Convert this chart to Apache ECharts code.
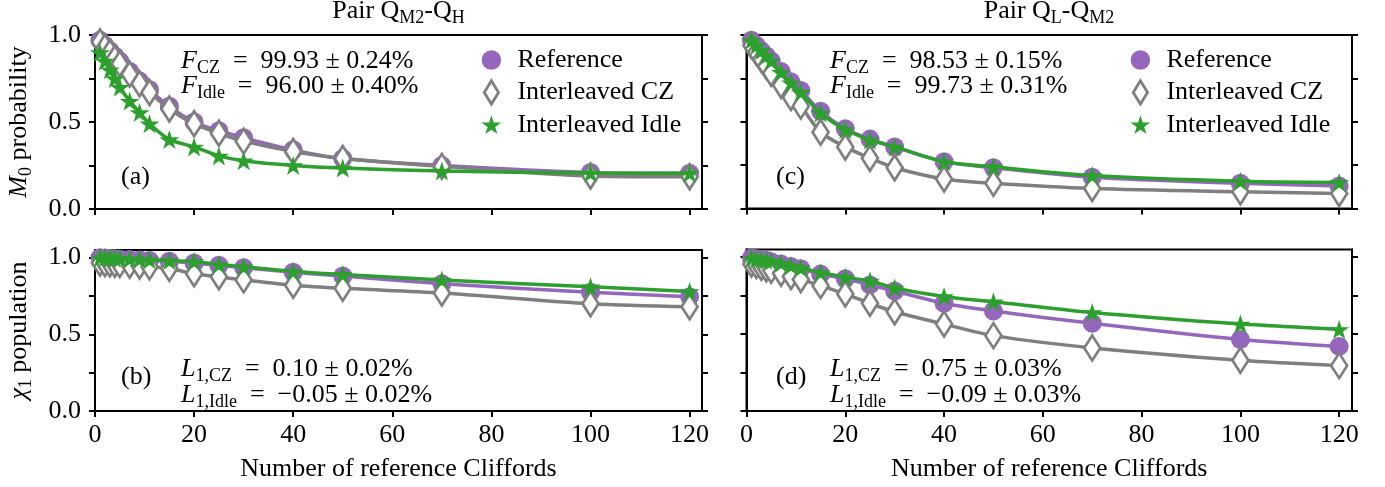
<!DOCTYPE html>
<html><head><meta charset="utf-8">
<script src="https://cdn.jsdelivr.net/npm/echarts@6/dist/echarts.min.js"></script>
<style>html,body{margin:0;padding:0;background:#fff}#c{width:1385px;height:487px}</style>
</head><body><div id="c"></div>
<script>
// ---- data ----
const cliffords = [1, 2, 3, 4, 5, 7, 9, 11, 15, 20, 25, 30, 40, 50, 70, 100, 120];
const seriesNames = ['Reference', 'Interleaved CZ', 'Interleaved Idle'];
// Panel (a): M0 probability, pair QM2-QH
const aRef  = [0.97, 0.94, 0.91, 0.88, 0.85, 0.79, 0.735, 0.685, 0.59, 0.50, 0.45, 0.41, 0.34, 0.29, 0.25, 0.21, 0.205];
const aCZ   = [0.96, 0.93, 0.90, 0.865, 0.835, 0.775, 0.72, 0.67, 0.575, 0.49, 0.435, 0.39, 0.33, 0.29, 0.245, 0.19, 0.185];
const aIdle = [0.90, 0.85, 0.80, 0.75, 0.70, 0.62, 0.555, 0.49, 0.40, 0.357, 0.305, 0.277, 0.25, 0.235, 0.218, 0.207, 0.205];
// Panel (b): chi1 population, pair QM2-QH
const bRef  = [1.0, 0.998, 0.995, 0.993, 0.99, 0.988, 0.985, 0.982, 0.977, 0.965, 0.95, 0.935, 0.905, 0.88, 0.83, 0.775, 0.745];
const bCZ   = [0.965, 0.962, 0.96, 0.957, 0.955, 0.95, 0.945, 0.94, 0.93, 0.895, 0.875, 0.855, 0.82, 0.80, 0.77, 0.70, 0.68];
const bIdle = [1.0, 1.0, 0.998, 0.996, 0.995, 0.992, 0.99, 0.987, 0.98, 0.975, 0.955, 0.94, 0.91, 0.89, 0.855, 0.81, 0.78];
// Panel (c): M0 probability, pair QL-QM2
const cRef  = [0.97, 0.94, 0.91, 0.88, 0.85, 0.79, 0.73, 0.68, 0.56, 0.46, 0.40, 0.355, 0.27, 0.235, 0.18, 0.145, 0.13];
const cCZ   = [0.94, 0.90, 0.86, 0.82, 0.78, 0.71, 0.64, 0.59, 0.44, 0.355, 0.29, 0.235, 0.17, 0.145, 0.115, 0.096, 0.087];
const cIdle = [0.97, 0.94, 0.91, 0.88, 0.85, 0.785, 0.725, 0.67, 0.55, 0.455, 0.395, 0.355, 0.27, 0.24, 0.19, 0.157, 0.15];
// Panel (d): chi1 population, pair QL-QM2
const dRef  = [0.995, 0.99, 0.985, 0.98, 0.97, 0.955, 0.94, 0.925, 0.89, 0.86, 0.82, 0.78, 0.70, 0.65, 0.57, 0.465, 0.42];
const dCZ   = [0.955, 0.945, 0.935, 0.925, 0.915, 0.895, 0.875, 0.855, 0.815, 0.76, 0.70, 0.645, 0.565, 0.49, 0.41, 0.33, 0.295];
const dIdle = [0.995, 0.99, 0.985, 0.98, 0.975, 0.96, 0.945, 0.93, 0.90, 0.87, 0.845, 0.80, 0.745, 0.71, 0.64, 0.565, 0.53];
const xTicks = [0, 20, 40, 60, 80, 100, 120];
const yTicks = [0, 0.25, 0.5, 0.75, 1.0];
const yTickLabels = [0, 0.5, 1.0];

// ---- style ----
const SERIF = '"Liberation Serif", "DejaVu Serif", serif';
const FS = 26;
const PURPLE = '#9467bd', GRAY = '#7f7f7f', GREEN = '#2ca02c';
const R = {
  n: {fontFamily: SERIF, fontSize: FS, color: '#000'},
  i: {fontFamily: SERIF, fontSize: FS, fontStyle: 'italic', color: '#000'},
  s: {fontFamily: SERIF, fontSize: 18, color: '#000', padding: [14, 0, 0, 0]}
};
function starPath(r, cx, cy, pad) {
  let p = pad ? 'path://M-1,-1M1,1' : 'path://';
  for (let k = 0; k < 10; k++) {
    const a = (-90 + 36 * k) * Math.PI / 180;
    const rr = (k % 2 === 0) ? r : r * 0.381966;
    p += (k === 0 ? 'M' : 'L') + (cx + rr * Math.cos(a)).toFixed(4) + ',' + (cy + rr * Math.sin(a)).toFixed(4);
  }
  return p + 'Z';
}
const DIAMOND = 'path://M0,-1L0.6,0L0,1L-0.6,0Z';
const STAR = starPath(1, 0, 0, false);
const LEG_CIRCLE = 'path://M-1,-1M1,1M-0.75,0A0.75,0.75,0,1,1,0.75,0A0.75,0.75,0,1,1,-0.75,0Z';
const LEG_DIAMOND = 'path://M-1,-1M1,1M0,-0.9L0.55,0L0,0.9L-0.55,0Z';
const LEG_STAR = starPath(0.8, 0, 0.07, true);

const grids = [
  {left: 95, top: 35, width: 607, height: 174},
  {left: 95, top: 250, width: 607, height: 161},
  {left: 746.5, top: 35, width: 605.5, height: 173.5},
  {left: 746.5, top: 249.5, width: 605.5, height: 161.5}
];
const yMax = [1.0, 1.05, 1.0, 1.05];
const xMax = [122.5, 122.5, 122.6, 122.6];
const tickStyle = {show: true, length: 6, inside: false, lineStyle: {color: '#000', width: 2}};
const lineAx = {show: true, lineStyle: {color: '#000', width: 2}};

const xAxes = grids.map((g, i) => ({
  type: 'value', gridIndex: i, min: 0, max: xMax[i], interval: 20,
  axisLine: lineAx, splitLine: {show: false},
  axisTick: Object.assign({customValues: xTicks}, tickStyle),
  axisLabel: {show: i === 1 || i === 3, customValues: xTicks, fontFamily: SERIF, fontSize: FS, color: '#000', margin: 11},
  name: (i === 1 || i === 3) ? 'Number of reference Cliffords' : '',
  nameLocation: 'middle', nameGap: 45,
  nameTextStyle: {fontFamily: SERIF, fontSize: FS, color: '#000'}
}));
const yAxes = [];
const yNames = ['{i|M}{s|0}{n| probability}', '{i|χ}{s|1}{n| population}'];
grids.forEach((g, i) => {
  yAxes.push({
    type: 'value', gridIndex: i, min: 0, max: yMax[i], interval: 0.25, position: 'left',
    axisLine: lineAx, splitLine: {show: false},
    axisTick: Object.assign({customValues: yTicks}, tickStyle),
    axisLabel: {show: i < 2, customValues: yTickLabels, formatter: v => v.toFixed(1), fontFamily: SERIF, fontSize: FS, color: '#000', margin: 14},
    name: i < 2 ? yNames[i] : '', nameLocation: 'middle', nameGap: 60,
    nameTextStyle: {rich: R, fontFamily: SERIF, fontSize: FS, color: '#000'}
  });
  yAxes.push({
    type: 'value', gridIndex: i, min: 0, max: yMax[i], interval: 0.25, position: 'right',
    axisLine: lineAx, splitLine: {show: false},
    axisTick: Object.assign({customValues: yTicks}, tickStyle),
    axisLabel: {show: false}
  });
});

const panelData = [[aRef, aCZ, aIdle], [bRef, bCZ, bIdle], [cRef, cCZ, cIdle], [dRef, dCZ, dIdle]];
const series = [];
panelData.forEach((arrs, p) => {
  const common = {type: 'line', xAxisIndex: p, yAxisIndex: 2 * p, smooth: 0.3, showAllSymbol: true, animation: false};
  series.push(Object.assign({}, common, {
    name: seriesNames[0], data: cliffords.map((x, k) => [x, arrs[0][k]]),
    symbol: 'circle', symbolSize: 19, itemStyle: {color: PURPLE},
    lineStyle: {color: PURPLE, width: 3.5}, z: 2
  }));
  series.push(Object.assign({}, common, {
    name: seriesNames[1], data: cliffords.map((x, k) => [x, arrs[1][k]]),
    symbol: DIAMOND, symbolSize: [16, 25], itemStyle: {color: '#fff', borderColor: GRAY, borderWidth: 2.8},
    lineStyle: {color: GRAY, width: 3.5}, z: 3
  }));
  series.push(Object.assign({}, common, {
    name: seriesNames[2], data: cliffords.map((x, k) => [x, arrs[2][k]]),
    symbol: STAR, symbolSize: [20, 19], itemStyle: {color: GREEN},
    lineStyle: {color: GREEN, width: 3.5}, z: 4
  }));
});

const legData = [
  {name: seriesNames[0], icon: LEG_CIRCLE, itemStyle: {color: PURPLE, borderWidth: 0}},
  {name: seriesNames[1], icon: LEG_DIAMOND, itemStyle: {color: '#fff', borderColor: GRAY, borderWidth: 2.8}},
  {name: seriesNames[2], icon: LEG_STAR, itemStyle: {color: GREEN, borderWidth: 0}}
];
const legend = [472, 1121].map(l => ({
  left: l, top: 42, orient: 'vertical', itemWidth: 26, itemHeight: 26, itemGap: 5,
  selectedMode: false, data: legData,
  textStyle: {fontFamily: SERIF, fontSize: FS, color: '#000', lineHeight: 26, padding: [0, 0, 0, 8]}
}));

function txt(x, y, text, align) {
  return {type: 'text', x: x, y: y, silent: true,
    style: {text: text, rich: R, align: align || 'left', verticalAlign: 'middle', font: FS + 'px ' + SERIF, fill: '#000'}};
}
const sp = '\u2002';
function eq(v, e) { return '{n|' + sp + '=' + sp + v + ' ± ' + e + '}'; }
const graphic = [
  txt(398.5, 11, '{n|Pair Q}{s|M2}{n|-Q}{s|H}', 'center'),
  txt(1049, 11, '{n|Pair Q}{s|L}{n|-Q}{s|M2}', 'center'),
  txt(181, 61, '{i|F}{s|CZ}' + eq('99.93', '0.24%')),
  txt(181, 86, '{i|F}{s|Idle}' + eq('96.00', '0.40%')),
  txt(830, 61, '{i|F}{s|CZ}' + eq('98.53', '0.15%')),
  txt(830, 86, '{i|F}{s|Idle}' + eq('99.73', '0.31%')),
  txt(121, 177, '{n|(a)}'),
  txt(776, 177, '{n|(c)}'),
  txt(121, 377, '{n|(b)}'),
  txt(776, 377, '{n|(d)}'),
  txt(181, 369, '{i|L}{s|1,CZ}' + eq('0.10', '0.02%')),
  txt(181, 395, '{i|L}{s|1,Idle}' + eq('\u22120.05', '0.02%')),
  txt(830, 369, '{i|L}{s|1,CZ}' + eq('0.75', '0.03%')),
  txt(830, 395, '{i|L}{s|1,Idle}' + eq('\u22120.09', '0.03%'))
];

const chart = echarts.init(document.getElementById('c'), null, {renderer: 'canvas'});
chart.setOption({
  backgroundColor: '#fff',
  animation: false,
  grid: grids.map(g => Object.assign({show: true, borderColor: '#000', borderWidth: 2, backgroundColor: 'transparent', containLabel: false, outerBoundsMode: 'none'}, g)),
  xAxis: xAxes,
  yAxis: yAxes,
  legend: legend,
  series: series,
  graphic: graphic
});
</script>
</body></html>
